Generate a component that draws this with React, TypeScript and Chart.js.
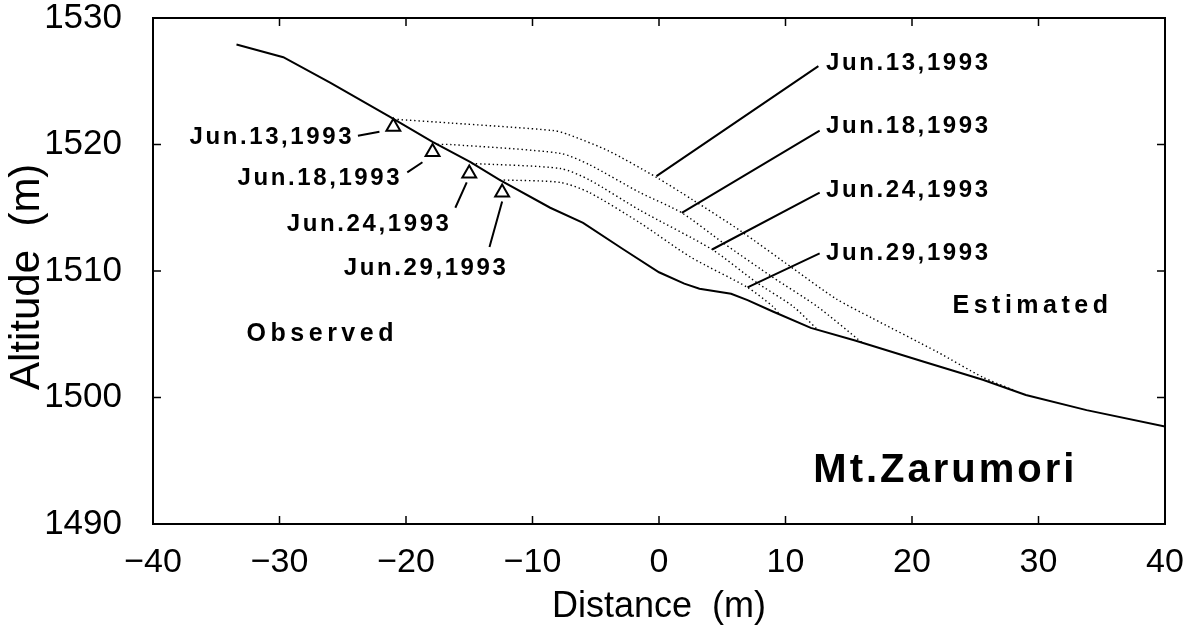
import React, { useEffect, useRef } from "react";
import { Chart, registerables } from "chart.js";

Chart.register(...registerables);

// ---- data ----
const groundX = [-33.4, -29.7, -26.0, -21.3, -17.9, -14.9, -12.6, -8.6, -6.0, -2.8, 0.0, 2.0, 3.2, 5.7, 7.0, 9.0, 12.0, 15.5, 21.0, 25.6, 29.0, 33.8, 40.0];
const groundY = [1527.9, 1526.9, 1524.9, 1522.2, 1520.2, 1518.6, 1517.2, 1515.0, 1513.8, 1511.7, 1509.9, 1509.0, 1508.6, 1508.2, 1507.7, 1506.8, 1505.5, 1504.5, 1502.8, 1501.4, 1500.2, 1499.0, 1497.7];

const jun13X = [-21.0, -16.5, -8.3, -7.2, -4.0, -0.2, 2.7, 6.4, 10.6, 14.0, 16.8, 22.0, 25.6, 28.0];
const jun13Y = [1522.0, 1521.7, 1521.1, 1520.8, 1519.5, 1517.4, 1515.6, 1513.2, 1510.2, 1507.8, 1506.3, 1503.6, 1501.6, 1500.6];

const jun18X = [-17.5, -16.5, -7.8, -5.5, -1.5, 1.8, 5.1, 9.0, 12.5, 16.1];
const jun18Y = [1520.0, 1520.0, 1519.3, 1518.4, 1516.2, 1514.6, 1512.2, 1509.5, 1507.2, 1504.3];

const jun24X = [-14.8, -7.8, -5.5, -1.5, 4.2, 7.7, 10.6, 12.5];
const jun24Y = [1518.5, 1518.1, 1517.2, 1514.8, 1511.7, 1509.1, 1507.2, 1505.4];

const jun29X = [-12.6, -7.8, -5.5, -1.5, 2.5, 7.0, 9.0, 9.5];
const jun29Y = [1517.2, 1517.0, 1516.2, 1513.8, 1511.1, 1508.7, 1507.2, 1506.6];

const markerX = [-21.0, -17.9, -15.0, -12.4];
const markerY = [1521.4, 1519.4, 1517.7, 1516.2];
const dateLabels = ["Jun.13,1993", "Jun.18,1993", "Jun.24,1993", "Jun.29,1993"];

const xTicks = [-40, -30, -20, -10, 0, 10, 20, 30, 40];
const yTicks = [1490, 1500, 1510, 1520, 1530];

// ---- annotation layout (data coordinates) ----
const leftLabelPos = [
  { x: -24.1, y: 1520.6, from: [-23.8, 1520.7], to: [-22.1, 1521.0] },
  { x: -20.3, y: 1517.3, from: [-19.9, 1517.8], to: [-18.7, 1518.6] },
  { x: -16.4, y: 1513.7, from: [-16.1, 1515.0], to: [-15.2, 1517.0] },
  { x: -11.9, y: 1510.2, from: [-13.4, 1511.9], to: [-12.4, 1515.5] },
];
const rightLabelPos = [
  { x: 13.2, y: 1526.4, from: [12.6, 1526.2], to: [-0.2, 1517.5] },
  { x: 13.2, y: 1521.4, from: [12.7, 1521.1], to: [1.8, 1514.6] },
  { x: 13.2, y: 1516.4, from: [12.7, 1516.2], to: [4.2, 1511.7] },
  { x: 13.2, y: 1511.4, from: [12.7, 1511.4], to: [7.0, 1508.7] },
];

const zip = (xs: number[], ys: number[]) => xs.map((x, i) => ({ x, y: ys[i] }));
const FONT = "'Liberation Sans', Arial, Helvetica, sans-serif";

const annotatePlugin = {
  id: "annotate",
  afterDatasetsDraw(chart: any) {
    const { ctx, chartArea, scales } = chart;
    const xs = scales.x;
    const ys = scales.y;
    const px = (v: number) => xs.getPixelForValue(v);
    const py = (v: number) => ys.getPixelForValue(v);
    ctx.save();
    // frame
    ctx.strokeStyle = "#000";
    ctx.lineWidth = 2;
    ctx.strokeRect(chartArea.left, chartArea.top, chartArea.right - chartArea.left, chartArea.bottom - chartArea.top);
    // inward ticks
    ctx.lineWidth = 1.5;
    ctx.beginPath();
    xTicks.forEach((t) => {
      const x = px(t);
      ctx.moveTo(x, chartArea.bottom);
      ctx.lineTo(x, chartArea.bottom - 8);
      ctx.moveTo(x, chartArea.top);
      ctx.lineTo(x, chartArea.top + 8);
    });
    yTicks.forEach((t) => {
      const y = py(t);
      ctx.moveTo(chartArea.left, y);
      ctx.lineTo(chartArea.left + 8, y);
      ctx.moveTo(chartArea.right, y);
      ctx.lineTo(chartArea.right - 8, y);
    });
    ctx.stroke();

    // leader lines
    ctx.lineWidth = 2;
    ctx.beginPath();
    [...leftLabelPos, ...rightLabelPos].forEach((p) => {
      ctx.moveTo(px(p.from[0]), py(p.from[1]));
      ctx.lineTo(px(p.to[0]), py(p.to[1]));
    });
    ctx.stroke();

    // date labels
    ctx.fillStyle = "#000";
    ctx.textBaseline = "middle";
    ctx.font = `bold 24px ${FONT}`;
    (ctx as any).letterSpacing = "2.6px";
    ctx.textAlign = "right";
    leftLabelPos.forEach((p, i) => ctx.fillText(dateLabels[i], px(p.x), py(p.y)));
    ctx.textAlign = "left";
    rightLabelPos.forEach((p, i) => ctx.fillText(dateLabels[i], px(p.x), py(p.y)));

    ctx.font = `bold 25px ${FONT}`;
    (ctx as any).letterSpacing = "4.5px";
    ctx.fillText("Observed", px(-32.6), py(1505.0));
    ctx.fillText("Estimated", px(23.2), py(1507.2));

    ctx.font = `bold 40px ${FONT}`;
    (ctx as any).letterSpacing = "3px";
    ctx.fillText("Mt.Zarumori", px(12.2), py(1494.2));
    (ctx as any).letterSpacing = "0px";
    ctx.restore();
  },
};

export default function App() {
  const ref = useRef<HTMLCanvasElement | null>(null);
  useEffect(() => {
    if (!ref.current) return;
    const dotted = {
      borderColor: "#000",
      borderWidth: 1.4,
      borderDash: [1.4, 2.8],
      pointRadius: 0,
      showLine: true,
      fill: false,
      tension: 0.25,
    };
    const chart = new Chart(ref.current, {
      type: "scatter",
      data: {
        datasets: [
          { label: "Ground", data: zip(groundX, groundY), borderColor: "#000", borderWidth: 2, pointRadius: 0, showLine: true, tension: 0 },
          { label: dateLabels[0], data: zip(jun13X, jun13Y), ...dotted },
          { label: dateLabels[1], data: zip(jun18X, jun18Y), ...dotted },
          { label: dateLabels[2], data: zip(jun24X, jun24Y), ...dotted },
          { label: dateLabels[3], data: zip(jun29X, jun29Y), ...dotted },
          {
            label: "Markers",
            data: zip(markerX, markerY),
            pointStyle: "triangle",
            pointRadius: 8,
            borderColor: "#000",
            borderWidth: 2,
            backgroundColor: "#fff",
            showLine: false,
          },
        ],
      },
      options: {
        responsive: false,
        animation: false,
        layout: { padding: { top: 18, right: 31, left: 0, bottom: 0 } },
        plugins: { legend: { display: false }, tooltip: { enabled: false } },
        scales: {
          x: {
            type: "linear",
            min: -40,
            max: 40,
            afterBuildTicks: (s: any) => { s.ticks = xTicks.map((v) => ({ value: v })); },
            afterFit: (s: any) => { s.height = 101; s.paddingLeft = 0; s.paddingRight = 0; s.paddingTop = 0; s.paddingBottom = 0; },
            grid: { display: false },
            border: { display: false },
            ticks: {
              color: "#000",
              font: { family: FONT, size: 34 },
              padding: 10,
              maxRotation: 0,
              callback: (v: any) => (Number(v) < 0 ? "\u2212" + Math.abs(Number(v)) : String(v)),
            },
            title: { display: true, text: "Distance  (m)", color: "#000", font: { family: FONT, size: 36, lineHeight: 1 }, padding: { top: 0, bottom: 0 } },
          },
          y: {
            type: "linear",
            min: 1490,
            max: 1530,
            afterBuildTicks: (s: any) => { s.ticks = yTicks.map((v) => ({ value: v })); },
            afterFit: (s: any) => { s.width = 153; s.paddingTop = 0; s.paddingBottom = 0; s.paddingLeft = 0; s.paddingRight = 0; },
            grid: { display: false },
            border: { display: false },
            ticks: { color: "#000", font: { family: FONT, size: 35 }, padding: 23, callback: (v: any) => String(v) },
            title: { display: true, text: "Altitude  (m) ", color: "#000", font: { family: FONT, size: 42, lineHeight: 1 }, padding: { top: 6, bottom: 0 } },
          },
        },
      },
      plugins: [annotatePlugin],
    } as any);
    return () => chart.destroy();
  }, []);
  return (
    <div style={{ position: "fixed", left: 0, top: 0, width: 1196, height: 625, background: "#fff" }}>
      <canvas ref={ref} width={1196} height={625} style={{ width: 1196, height: 625, display: "block" }} />
    </div>
  );
}
